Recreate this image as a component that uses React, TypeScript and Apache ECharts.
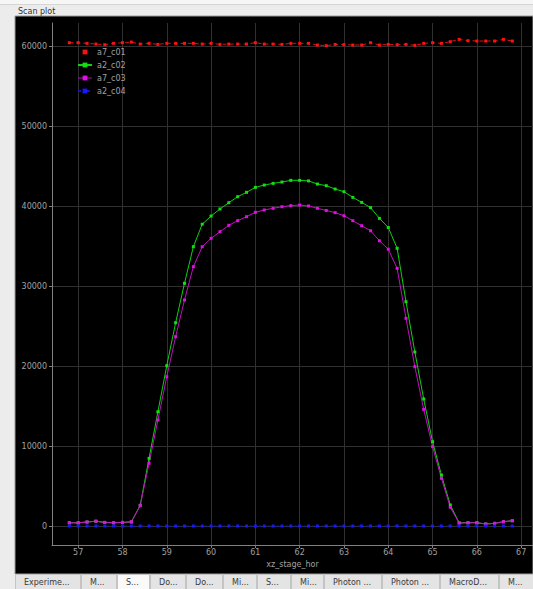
import React, { useEffect, useRef } from "react";
import * as echarts from "echarts";

// ---- data ----
const xPositions = [
  56.8, 57.0, 57.2, 57.4, 57.6, 57.8, 58.0, 58.2, 58.4, 58.6,
  58.8, 59.0, 59.2, 59.4, 59.6, 59.8, 60.0, 60.2, 60.4, 60.6,
  60.8, 61.0, 61.2, 61.4, 61.6, 61.8, 62.0, 62.2, 62.4, 62.6,
  62.8, 63.0, 63.2, 63.4, 63.6, 63.8, 64.0, 64.2, 64.4, 64.6,
  64.8, 65.0, 65.2, 65.4, 65.6, 65.8, 66.0, 66.2, 66.4, 66.6,
  66.8,
];

const a7c01 = [
  60500, 60500, 60420, 60330, 60250, 60420, 60500, 60580, 60330, 60420,
  60290, 60420, 60420, 60420, 60420, 60330, 60420, 60290, 60330, 60330,
  60330, 60500, 60330, 60330, 60290, 60420, 60420, 60420, 60210, 60130,
  60290, 60250, 60210, 60210, 60500, 60210, 60290, 60250, 60290, 60170,
  60420, 60500, 60420, 60630, 60920, 60750, 60710, 60710, 60710, 60920,
  60710,
];

const a2c02 = [
  400, 400, 500, 600, 450, 400, 450, 500, 2600, 8470,
  14310, 20070, 25450, 30380, 34960, 37780, 38800, 39680, 40470, 41220,
  41770, 42390, 42680, 42890, 43060, 43270, 43270, 43200, 42810, 42600,
  42180, 41850, 41140, 40510, 39850, 38510, 37370, 34760, 28080, 21780,
  15900, 10550, 6380, 2630, 400, 410, 410, 250, 330, 540,
  660,
];

const a7c03 = [
  400, 400, 500, 600, 450, 400, 450, 540, 2540, 7850,
  13270, 18690, 23700, 28290, 32460, 34960, 36010, 36840, 37640, 38220,
  38720, 39270, 39560, 39770, 39970, 40100, 40180, 40060, 39770, 39500,
  39220, 38840, 38220, 37590, 36960, 35710, 34650, 32250, 26000, 19940,
  14600, 9930, 5970, 2340, 350, 410, 410, 250, 330, 540,
  660,
];

const a2c04 = [
  0, 0, 0, 0, 0, 0, 0, 0, 0, 0,
  0, 0, 0, 0, 0, 0, 0, 0, 0, 0,
  0, 0, 0, 0, 0, 0, 0, 0, 0, 0,
  0, 0, 0, 0, 0, 0, 0, 0, 0, 0,
  0, 0, 0, 0, 0, 0, 0, 0, 0, 0,
  0,
];

const seriesNames = ["a7_c01", "a2_c02", "a7_c03", "a2_c04"];
const tabLabels = [
  "Experime...", "M...", "S...", "Do...", "Do...", "Mi...",
  "S...", "Mi...", "Photon ...", "Photon ...", "MacroD...", "M...",
];
const selectedTab = 2;
const xAxisName = "xz_stage_hor";
const panelTitle = "Scan plot";

// ---- layout (not data) ----
const W = 533;
const H = 589;
const tabEdges = [15, 81, 117, 150, 186, 223, 257, 291, 324, 382, 440, 499, 540];
const FONT = "DejaVu Sans, sans-serif";

function pairs(ys: number[]) {
  return xPositions.map((x, i) => [x, ys[i]]);
}

export default function App() {
  const ref = useRef<HTMLDivElement>(null);

  useEffect(() => {
    if (!ref.current) return;
    const chart = echarts.init(ref.current, undefined, { renderer: "svg" });

    const tabGraphics: any[] = [];
    for (let i = 0; i < tabLabels.length; i++) {
      const x0 = tabEdges[i];
      const x1 = tabEdges[i + 1];
      tabGraphics.push({
        type: "rect",
        z: -50,
        shape: { x: x0 + 0.5, y: 574.5, width: x1 - x0 - 1, height: 15 },
        style: {
          fill: i === selectedTab ? "#fafafa" : "#e4e4e4",
          stroke: "#c4c4c4",
          lineWidth: 1,
        },
      });
      tabGraphics.push({
        type: "text",
        z: -40,
        x: x0 + 9,
        y: 582,
        style: {
          text: tabLabels[i],
          fill: "#3a3a3a",
          font: `8px ${FONT}`,
          verticalAlign: "middle",
          align: "left",
        },
      });
    }

    const common = {
      type: "line",
      symbol: "rect",
      symbolSize: 3,
      showSymbol: true,
      animation: false,
      emphasis: { disabled: true },
    };

    chart.setOption({
      animation: false,
      backgroundColor: "#ececec",
      graphic: [
        {
          type: "rect",
          z: -100,
          shape: { x: 0, y: 0, width: W, height: 4 },
          style: { fill: "#f6f6f6" },
        },
        {
          type: "line",
          z: -99,
          shape: { x1: 0, y1: 4.5, x2: W, y2: 4.5 },
          style: { stroke: "#d6d6d6", lineWidth: 1 },
        },
        {
          type: "rect",
          z: -100,
          shape: { x: 15, y: 16, width: W - 15, height: 558 },
          style: { fill: "#000000", stroke: "#9a9a9a", lineWidth: 1 },
        },
        {
          type: "text",
          z: -90,
          x: 18,
          y: 11,
          style: {
            text: panelTitle,
            fill: "#333333",
            font: `8px ${FONT}`,
            verticalAlign: "middle",
          },
        },
        ...tabGraphics,
      ],
      grid: { left: 52, right: 0, top: 23, bottom: 44, containLabel: false },
      legend: {
        orient: "vertical",
        left: 77,
        top: 47,
        padding: 0,
        itemWidth: 14,
        itemHeight: 6,
        itemGap: 3,
        selectedMode: false,
        textStyle: { color: "#a0a0a0", fontSize: 8, fontFamily: FONT, lineHeight: 10 },
        data: [
          { name: seriesNames[0], lineStyle: { opacity: 0 } },
          { name: seriesNames[1] },
          { name: seriesNames[2], lineStyle: { opacity: 0.45 } },
          { name: seriesNames[3] },
        ],
      },
      xAxis: {
        type: "value",
        min: 56.409,
        max: 67.267,
        splitNumber: 10,
        name: xAxisName,
        nameLocation: "middle",
        nameGap: 14,
        nameTextStyle: { color: "#a0a0a0", fontSize: 8, fontFamily: FONT },
        axisLine: { onZero: false, lineStyle: { color: "#808080", width: 1 } },
        axisTick: { show: true, length: 3, lineStyle: { color: "#808080" } },
        axisLabel: {
          color: "#a0a0a0",
          fontSize: 8,
          fontFamily: FONT,
          margin: 3,
          showMinLabel: false,
          showMaxLabel: false,
          formatter: (v: number) => String(Math.round(v)),
        },
        splitLine: {
          show: true,
          showMinLine: false,
          showMaxLine: false,
          lineStyle: { color: "#303030", width: 1 },
        },
      },
      yAxis: {
        type: "value",
        min: -2378,
        max: 62967,
        splitNumber: 6,
        axisLine: { show: true, onZero: false, lineStyle: { color: "#808080", width: 1 } },
        axisTick: { show: true, length: 3, lineStyle: { color: "#808080" } },
        axisLabel: {
          color: "#a0a0a0",
          fontSize: 8,
          fontFamily: FONT,
          margin: 5,
          showMinLabel: false,
          showMaxLabel: false,
          formatter: (v: number) => String(Math.round(v)),
        },
        splitLine: {
          show: true,
          showMinLine: false,
          showMaxLine: false,
          lineStyle: { color: "#303030", width: 1 },
        },
      },
      series: [
        {
          ...common,
          name: seriesNames[0],
          data: pairs(a7c01),
          itemStyle: { color: "#ff1010" },
          lineStyle: { color: "#e01010", width: 1, type: [4, 3] },
        },
        {
          ...common,
          name: seriesNames[1],
          data: pairs(a2c02),
          itemStyle: { color: "#10e010" },
          lineStyle: { color: "#10d010", width: 1 },
        },
        {
          ...common,
          name: seriesNames[2],
          data: pairs(a7c03),
          itemStyle: { color: "#e010e0" },
          lineStyle: { color: "#c010c0", width: 1 },
        },
        {
          ...common,
          name: seriesNames[3],
          data: pairs(a2c04),
          itemStyle: { color: "#1818ff" },
          lineStyle: { color: "#1010c0", width: 1, type: [3, 6] },
        },
      ],
    });

    return () => {
      chart.dispose();
    };
  }, []);

  return (
    <div style={{ position: "fixed", left: 0, top: 0, width: W, height: H, overflow: "hidden" }}>
      <div ref={ref} style={{ width: W, height: H }} />
    </div>
  );
}
